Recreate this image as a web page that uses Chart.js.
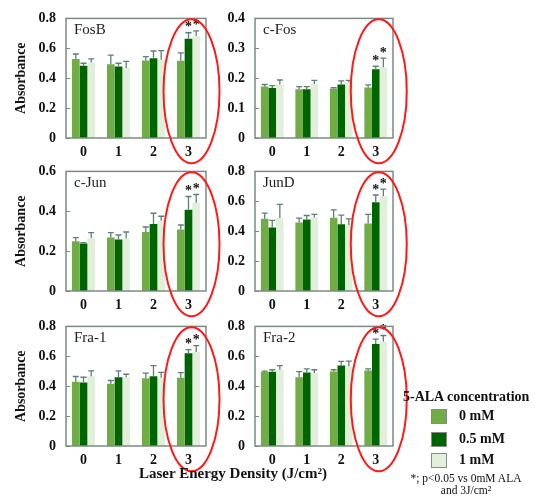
<!DOCTYPE html>
<html><head><meta charset="utf-8">
<script src="https://cdn.jsdelivr.net/npm/chart.js@4.4.1/dist/chart.umd.min.js"></script>
<style>
body{margin:0;background:#fff;width:535px;height:496px;overflow:hidden;position:relative;font-family:'Liberation Serif',serif;color:#111;}
canvas{position:absolute;}
.t{position:absolute;white-space:nowrap;}
.box{position:absolute;width:16px;height:15px;border:1px solid #8a8a8a;box-sizing:border-box;}
</style></head><body>
<canvas id="c0" width="232" height="170" style="left:0;top:0"></canvas>
<canvas id="c1" width="195" height="170" style="left:225px;top:0"></canvas>
<canvas id="c2" width="232" height="170" style="left:0;top:153px"></canvas>
<canvas id="c3" width="195" height="170" style="left:225px;top:153px"></canvas>
<canvas id="c4" width="232" height="170" style="left:0;top:308px"></canvas>
<canvas id="c5" width="195" height="170" style="left:225px;top:308px"></canvas>

<div class="t" style="left:83px;width:300px;top:465px;text-align:center;font-weight:bold;font-size:15px;">Laser Energy Density (J/cm²)</div>
<div class="t" style="left:403px;top:389px;font-weight:bold;font-size:14px;">5-ALA concentration</div>
<div class="box" style="left:431px;top:409px;background:#70AD47"></div>
<div class="t" style="left:459px;top:408px;font-weight:bold;font-size:14px;">0 mM</div>
<div class="box" style="left:431px;top:432px;background:#006400"></div>
<div class="t" style="left:459px;top:431px;font-weight:bold;font-size:14px;">0.5 mM</div>
<div class="box" style="left:431px;top:453px;background:#E2EFDA"></div>
<div class="t" style="left:459px;top:452px;font-weight:bold;font-size:14px;">1 mM</div>
<div class="t" style="left:396px;width:140px;top:472px;text-align:center;font-size:11.5px;line-height:12px;">*; p&lt;0.05 vs 0mM ALA<br>and 3J/cm²</div>

<script>
const categories = ['0', '1', '2', '3'];
const seriesLabels = ['0 mM', '0.5 mM', '1 mM'];
const seriesColors = ['#70AD47', '#006400', '#E2EFDA'];
const panelNames = ['FosB', 'c-Fos', 'c-Jun', 'JunD', 'Fra-1', 'Fra-2'];
const yMaxes = [0.8, 0.4, 0.6, 0.8, 0.8, 0.8];
const ySteps = [0.2, 0.1, 0.2, 0.2, 0.2, 0.2];
// significance flags per series (rows) and category (cols)
const significant = [[false, false, false, false], [false, false, false, true], [false, false, false, true]];

const fosB_means  = [[0.529, 0.494, 0.518, 0.516], [0.483, 0.479, 0.533, 0.664], [0.505, 0.468, 0.523, 0.682]];
const fosB_errors = [[0.033, 0.061, 0.026, 0.053], [0.017, 0.021, 0.049, 0.040], [0.024, 0.045, 0.061, 0.035]];
const cFos_means  = [[0.172, 0.163, 0.165, 0.169], [0.167, 0.163, 0.179, 0.230], [0.179, 0.181, 0.186, 0.237]];
const cFos_errors = [[0.007, 0.009, 0.003, 0.009], [0.008, 0.009, 0.012, 0.010], [0.015, 0.012, 0.007, 0.030]];
const cJun_means  = [[0.250, 0.268, 0.296, 0.309], [0.238, 0.258, 0.336, 0.408], [0.266, 0.263, 0.352, 0.443]];
const cJun_errors = [[0.018, 0.025, 0.025, 0.022], [0.005, 0.023, 0.054, 0.066], [0.027, 0.033, 0.023, 0.041]];
const junD_means  = [[0.484, 0.458, 0.490, 0.451], [0.425, 0.479, 0.447, 0.594], [0.488, 0.492, 0.440, 0.633]];
const junD_errors = [[0.037, 0.030, 0.052, 0.061], [0.048, 0.026, 0.061, 0.048], [0.091, 0.020, 0.042, 0.048]];
const fra1_means  = [[0.430, 0.416, 0.454, 0.456], [0.425, 0.460, 0.467, 0.621], [0.467, 0.460, 0.456, 0.628]];
const fra1_errors = [[0.035, 0.022, 0.033, 0.035], [0.035, 0.042, 0.070, 0.024], [0.035, 0.020, 0.037, 0.044]];
const fra2_means  = [[0.495, 0.460, 0.499, 0.505], [0.497, 0.492, 0.538, 0.682], [0.510, 0.488, 0.534, 0.699]];
const fra2_errors = [[0.006, 0.037, 0.011, 0.011], [0.013, 0.024, 0.028, 0.033], [0.028, 0.022, 0.034, 0.040]];

const allMeans = [fosB_means, cFos_means, cJun_means, junD_means, fra1_means, fra2_means];
const allErrors = [fosB_errors, cFos_errors, cJun_errors, junD_errors, fra1_errors, fra2_errors];

const FONT = 'Liberation Serif';
const FRAME = '#7d8a84';
const ERRC = '#5f7f78';

const decor = {
  id: 'decor',
  afterDatasetsDraw(chart, args, opts) {
    const ctx = chart.ctx;
    const {left, right, top, bottom} = chart.chartArea;
    const ys = chart.scales.y, xs = chart.scales.x;
    ctx.save();
    chart.data.datasets.forEach((ds, i) => {
      const meta = chart.getDatasetMeta(i);
      meta.data.forEach((bar, j) => {
        const v = ds.data[j], e = opts.errors[i][j];
        const yTop = ys.getPixelForValue(v + e);
        const yBar = ys.getPixelForValue(v);
        ctx.strokeStyle = ERRC; ctx.lineWidth = 1.3;
        ctx.beginPath();
        ctx.moveTo(bar.x, yBar); ctx.lineTo(bar.x, yTop);
        ctx.moveTo(bar.x - 3, yTop); ctx.lineTo(bar.x + 3, yTop);
        ctx.stroke();
        if (significant[i][j]) {
          ctx.fillStyle = '#111';
          ctx.font = 'bold 14px ' + FONT;
          ctx.textAlign = 'center'; ctx.textBaseline = 'middle';
          ctx.fillText('*', bar.x, yTop - 5);
        }
      });
    });
    ctx.strokeStyle = FRAME; ctx.lineWidth = 1.5;
    ctx.strokeRect(left, top, right - left, bottom - top);
    ctx.lineWidth = 1;
    ys.ticks.forEach(t => {
      const y = Math.round(ys.getPixelForValue(t.value)) + 0.5;
      ctx.beginPath(); ctx.moveTo(left, y); ctx.lineTo(left + 4, y); ctx.stroke();
    });
    ctx.fillStyle = '#222';
    ctx.font = '15px ' + FONT;
    ctx.textAlign = 'left'; ctx.textBaseline = 'middle';
    ctx.fillText(opts.name, left + 8, top + 12);
    const cx = xs.getPixelForValue(3) + 3;
    const cy = (top + bottom) / 2 + 13;
    ctx.strokeStyle = '#ff1a1a'; ctx.lineWidth = 2;
    ctx.beginPath(); ctx.ellipse(cx, cy, 28, 72, 0, 0, Math.PI * 2); ctx.stroke();
    ctx.restore();
  }
};

function makeChart(k) {
  const leftCol = (k % 2 === 0);
  const yAxisWidth = leftCol ? 66 : 30;
  const padRight = leftCol ? 26 : 27;
  new Chart(document.getElementById('c' + k), {
    type: 'bar',
    data: {
      labels: categories,
      datasets: seriesLabels.map((l, i) => ({
        label: l, data: allMeans[k][i], backgroundColor: seriesColors[i], borderWidth: 0,
        categoryPercentage: 0.66, barPercentage: 1.0
      }))
    },
    options: {
      responsive: false, animation: false,
      layout: {padding: {top: 16, left: 0, right: padRight, bottom: 6}},
      plugins: {legend: {display: false}, tooltip: {enabled: false},
        decor: {name: panelNames[k], errors: allErrors[k]}},
      scales: {
        x: {grid: {display: false, drawTicks: false}, border: {display: false},
            ticks: {font: {family: FONT, size: 14, weight: 'bold'}, color: '#111', padding: 6},
            afterFit: s => { s.height = 26; }},
        y: {min: 0, max: yMaxes[k], grid: {display: false, drawTicks: false}, border: {display: false},
            ticks: {stepSize: ySteps[k], padding: 10, font: {family: FONT, size: 14, weight: 'bold'}, color: '#111',
                    callback: v => (Math.abs(v) < 1e-9 ? '0' : v.toFixed(1))},
            title: {display: leftCol, text: 'Absorbance', color: '#111',
                    font: {family: FONT, size: 14, weight: 'bold'}, padding: {top: 13, bottom: 0}},
            afterFit: s => { s.width = yAxisWidth; }}
      }
    },
    plugins: [decor]
  });
}
for (let k = 0; k < 6; k++) makeChart(k);
</script>
</body></html>
